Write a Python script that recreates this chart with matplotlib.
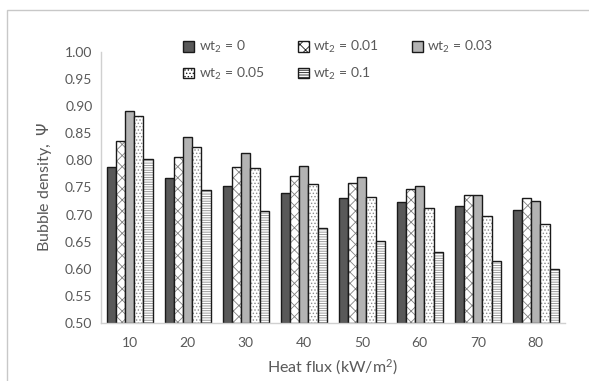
import numpy as np
import matplotlib
matplotlib.use("Agg")
import matplotlib.pyplot as plt
from matplotlib.patches import Rectangle, Patch

plt.rcParams['font.family'] = ['Lato', 'DejaVu Sans']
plt.rcParams['mathtext.default'] = 'regular'
plt.rcParams['hatch.linewidth'] = 0.6

# data
heat_flux = ['10', '20', '30', '40', '50', '60', '70', '80']
labels = ['wt$_2$ = 0', 'wt$_2$ = 0.01', 'wt$_2$ = 0.03', 'wt$_2$ = 0.05', 'wt$_2$ = 0.1']
wt_0 = [0.788, 0.768, 0.752, 0.740, 0.731, 0.723, 0.715, 0.709]
wt_001 = [0.835, 0.807, 0.787, 0.771, 0.758, 0.747, 0.737, 0.730]
wt_003 = [0.890, 0.843, 0.813, 0.789, 0.769, 0.752, 0.737, 0.725]
wt_005 = [0.881, 0.824, 0.786, 0.757, 0.733, 0.713, 0.697, 0.682]
wt_01 = [0.803, 0.745, 0.706, 0.675, 0.651, 0.631, 0.614, 0.599]

series = [wt_0, wt_001, wt_003, wt_005, wt_01]
faces = ['#595959', 'white', '#b3b3b3', 'white', 'white']
hatches = [None, 'xxx', None, '.....', '-------']
hatch_cols = ['#595959', '#808080', '#b3b3b3', '#8c8c8c', '#8c8c8c']

grey = '#595959'

fig = plt.figure(figsize=(5.89, 3.81), dpi=100)
ax = fig.add_axes([0.171, 0.152, 0.788, 0.712])

x = np.arange(len(heat_flux))
w = 0.158
for i, vals in enumerate(series):
    pos = x + (i - 2) * w
    heights = np.array(vals) - 0.5
    ax.bar(pos, heights, w, bottom=0.5, color=faces[i], hatch=hatches[i],
           edgecolor=hatch_cols[i], linewidth=0)
    ax.bar(pos, heights, w, bottom=0.5, fill=False, edgecolor='#1a1a1a', linewidth=1.0)

ax.set_ylim(0.5, 1.0)
ax.set_xlim(-0.5, len(heat_flux) - 0.5)
ax.set_yticks(np.arange(0.5, 1.001, 0.05))
ax.set_yticklabels(['%.2f' % v for v in np.arange(0.5, 1.001, 0.05)])
ax.set_xticks(x)
ax.set_xticklabels(heat_flux)
ax.tick_params(length=0, labelsize=10, colors=grey, pad=6)
ax.tick_params(axis='x', pad=10)
for s in ['top', 'right']:
    ax.spines[s].set_visible(False)
for s in ['left', 'bottom']:
    ax.spines[s].set_color('#d0d0d0')
    ax.spines[s].set_linewidth(1.0)

ax.set_xlabel('Heat flux (kW/m$^2$)', fontsize=11.5, color=grey, labelpad=6)
ax.set_ylabel('Bubble density,  $\\mathit{\\Psi}$', fontsize=11.5, color=grey, labelpad=8)

# legend filled row by row like the original (matplotlib fills columns)
order = [0, 3, 1, 4, 2]
handles = []
for i in order:
    handles.append(Patch(facecolor=faces[i], hatch=hatches[i], edgecolor='#1a1a1a', linewidth=1.0))
leg = fig.legend(handles, [labels[i] for i in order], ncol=3, loc='upper left',
                 bbox_to_anchor=(0.29, 0.93), frameon=False, fontsize=10,
                 handlelength=0.8, handleheight=0.8, handletextpad=0.3,
                 columnspacing=2.4, labelspacing=0.75)
for t in leg.get_texts():
    t.set_color(grey)

fig.patches.append(Rectangle((0.012, -0.02), 1.0, 0.994, transform=fig.transFigure,
                             fill=False, edgecolor='#c8c8c8', linewidth=1.0))

fig.savefig('out.png', dpi=100)
